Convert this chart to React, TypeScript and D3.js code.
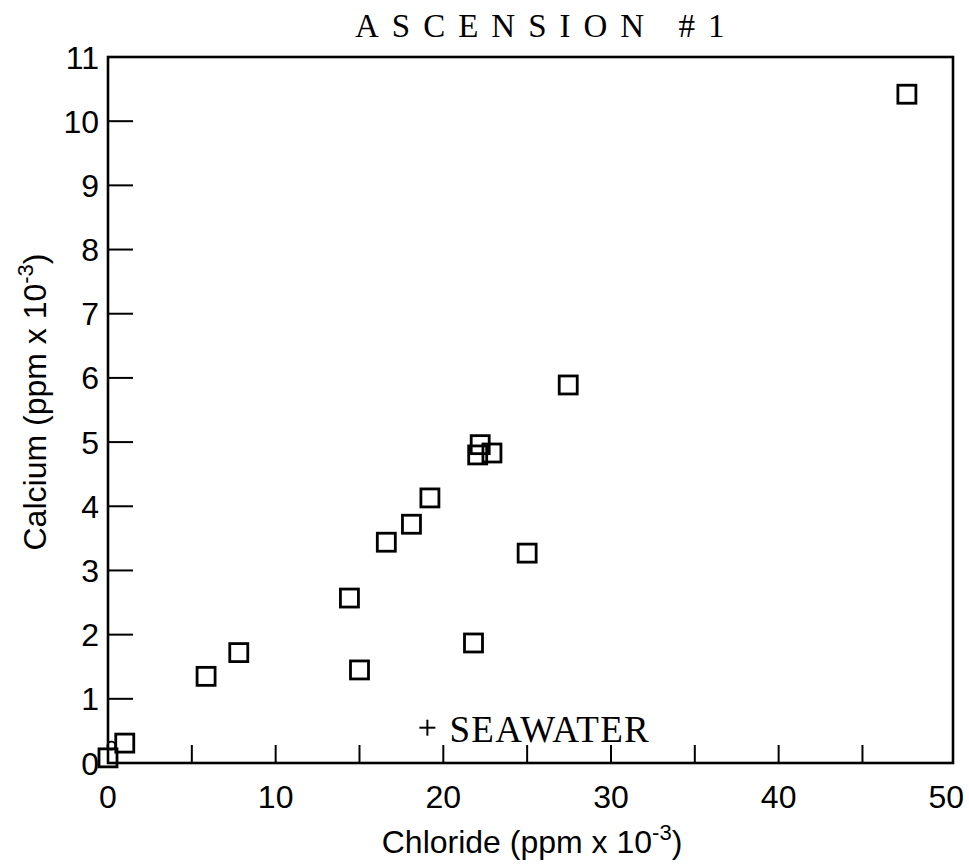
import React from "react";
import * as d3 from "d3";

// Chloride vs calcium samples (ppm x 10^-3)
const chloride = [0.0, 1.0, 5.85, 7.8, 14.4, 15.0, 22.2, 22.05, 22.9, 19.2, 18.1, 16.6, 25.0, 21.8, 27.45, 47.65];
const calcium = [0.08, 0.31, 1.35, 1.72, 2.57, 1.45, 4.96, 4.8, 4.83, 4.13, 3.72, 3.44, 3.27, 1.87, 5.89, 10.42];

// small open circle sample near the origin
const circleChloride = [0.2];
const circleCalcium = [0.27];

// seawater reference point
const seawaterChloride = [19.05];
const seawaterCalcium = [0.55];
const seawaterLabel = "SEAWATER";

const xTicks = [0, 10, 20, 30, 40, 50];
const xMinorTicks = [5, 10, 15, 20, 25, 30, 35, 40, 45];
const yTicks = [0, 1, 2, 3, 4, 5, 6, 7, 8, 9, 10, 11];
const yTickMarks = [1, 2, 3, 4, 5, 6, 7, 8, 9, 10];

const title = "ASCENSION #1";

const W = 969;
const H = 867;
const left = 108;
const right = 953;
const top = 57;
const bottom = 763;

export default function App() {
  const x = d3.scaleLinear().domain([0, 50.4]).range([left, right]);
  const y = d3.scaleLinear().domain([0, 11]).range([bottom, top]);
  const sq = 18;
  const sans = "'Liberation Sans', Arial, sans-serif";
  const serif = "'Liberation Serif', 'Times New Roman', serif";

  return (
    <svg
      width={W}
      height={H}
      viewBox={`0 0 ${W} ${H}`}
      style={{ position: "absolute", left: 0, top: 0, background: "#fff" }}
    >
      <rect x={0} y={0} width={W} height={H} fill="#fff" />
      <text
        x={355}
        y={37}
        textAnchor="start"
        fontFamily={serif}
        fontSize={33}
        letterSpacing={13}
        fill="#000"
      >
        {title}
      </text>

      {/* plot frame */}
      <rect
        x={left}
        y={top}
        width={right - left}
        height={bottom - top}
        fill="none"
        stroke="#000"
        strokeWidth={2.6}
      />

      {/* x ticks (inward) */}
      {xMinorTicks.map((t) => (
        <line key={"xt" + t} x1={x(t)} x2={x(t)} y1={bottom} y2={bottom - 18} stroke="#000" strokeWidth={2} />
      ))}
      {xTicks.map((t) => (
        <text
          key={"xl" + t}
          x={x(t)}
          y={808}
          textAnchor="middle"
          fontFamily={sans}
          fontSize={32}
          fill="#000"
        >
          {t}
        </text>
      ))}

      {/* y ticks (inward) */}
      {yTickMarks.map((t) => (
        <line key={"yt" + t} x1={left} x2={left + 25} y1={y(t)} y2={y(t)} stroke="#000" strokeWidth={2} />
      ))}
      {yTicks.map((t) => (
        <text
          key={"yl" + t}
          x={99}
          y={y(t) + 11.5}
          textAnchor="end"
          fontFamily={sans}
          fontSize={32}
          fill="#000"
        >
          {t}
        </text>
      ))}

      {/* axis titles */}
      <text x={532} y={853} textAnchor="middle" fontFamily={sans} fontSize={32} fill="#000">
        Chloride (ppm x 10
        <tspan dy={-13} fontSize={22}>-3</tspan>
        <tspan dy={13}>)</tspan>
      </text>
      <text
        transform={`translate(46, 402) rotate(-90)`}
        textAnchor="middle"
        fontFamily={sans}
        fontSize={32}
        fill="#000"
      >
        Calcium (ppm x 10
        <tspan dy={-13} fontSize={22}>-3</tspan>
        <tspan dy={13}>)</tspan>
      </text>

      {/* samples */}
      {chloride.map((c, i) => (
        <rect
          key={"s" + i}
          x={x(c) - sq / 2}
          y={y(calcium[i]) - sq / 2}
          width={sq}
          height={sq}
          fill="none"
          stroke="#000"
          strokeWidth={2.8}
        />
      ))}
      {circleChloride.map((c, i) => (
        <circle key={"c" + i} cx={x(c)} cy={y(circleCalcium[i])} r={4} fill="none" stroke="#000" strokeWidth={1.8} />
      ))}

      {/* seawater */}
      {seawaterChloride.map((c, i) => {
        const px = x(c);
        const py = y(seawaterCalcium[i]);
        return (
          <g key={"sw" + i}>
            <line x1={px - 8} x2={px + 8} y1={py} y2={py} stroke="#000" strokeWidth={2} />
            <line x1={px} x2={px} y1={py - 8} y2={py + 8} stroke="#000" strokeWidth={2} />
            <text
              x={px + 22}
              y={py + 14}
              fontFamily={serif}
              fontSize={37}
              letterSpacing={1.3}
              fill="#000"
            >
              {seawaterLabel}
            </text>
          </g>
        );
      })}
    </svg>
  );
}
